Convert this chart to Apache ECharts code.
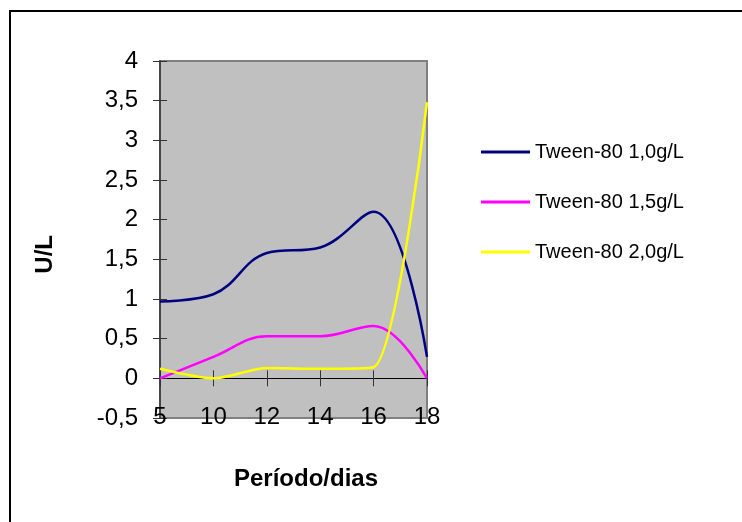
<!DOCTYPE html>
<html>
<head>
<meta charset="utf-8">
<script src="https://cdn.jsdelivr.net/npm/echarts@6/dist/echarts.min.js"></script>
<style>html,body{margin:0;padding:0;background:#fff;}#c{width:742px;height:522px;}</style>
</head>
<body>
<div id="c"></div>
<script>
const categories = ['5', '10', '12', '14', '16', '18'];
const seriesNames = ['Tween-80 1,0g/L', 'Tween-80 1,5g/L', 'Tween-80 2,0g/L'];
const tween10 = [0.97, 1.06, 1.58, 1.65, 2.10, 0.27];
const tween15 = [0.0, 0.27, 0.53, 0.53, 0.66, 0.0];
const tween20 = [0.12, 0.0, 0.13, 0.12, 0.14, 3.48];
const yTicks = { min: -0.5, max: 4, interval: 0.5 };

const colors = ['#000080', '#FF00FF', '#FFFF00'];
const smoothness = [0.4, 0.4, 0.25];
const font = 'Liberation Sans, Arial, sans-serif';
const chart = echarts.init(document.getElementById('c'), null, { renderer: 'canvas' });

function fmt(v) { return String(v).replace('.', ','); }

const valuesList = [tween10, tween15, tween20];
const legendCenters = [151, 201, 251];

chart.setOption({
  animation: false,
  backgroundColor: '#fff',
  graphic: [
    { type: 'rect', shape: { x: 10, y: 11, width: 800, height: 600 }, style: { fill: 'none', stroke: '#000', lineWidth: 2 }, z: -10 },
    { type: 'text', left: 33, top: 235, rotation: Math.PI / 2, style: { text: 'U/L', font: 'bold 24px ' + font, fill: '#000' } },
    { type: 'text', x: 306, y: 479, style: { text: 'Período/dias', font: 'bold 24px ' + font, fill: '#000', align: 'center', verticalAlign: 'middle' } }
  ],
  grid: { left: 160, right: 315, top: 61, bottom: 104, show: true, backgroundColor: '#C0C0C0', borderColor: '#808080', borderWidth: 2 },
  legend: seriesNames.map((n, i) => ({
    data: [{ name: n, icon: 'rect', itemStyle: { color: colors[i] } }],
    left: 481, top: legendCenters[i] - 9, padding: 0, itemWidth: 49, itemHeight: 3,
    textStyle: { fontFamily: font, fontSize: 20, color: '#000', padding: [0, 0, 0, 0] }
  })),
  xAxis: [
    { type: 'category', data: categories, boundaryGap: false, position: 'bottom',
      axisLine: { show: false, onZero: false }, axisTick: { show: false }, splitLine: { show: false },
      axisLabel: { fontFamily: font, fontSize: 24, color: '#000', margin: -1, verticalAlign: 'middle', interval: 0 } },
    { type: 'category', data: categories, boundaryGap: false, position: 'bottom',
      axisLine: { show: true, onZero: true, onZeroAxisIndex: 0, lineStyle: { color: '#000', width: 1 } },
      axisTick: { show: true, inside: false, length: 8, interval: 0, lineStyle: { color: '#333' } },
      axisLabel: { show: false }, splitLine: { show: false } },
    { type: 'category', data: categories, boundaryGap: false, position: 'bottom',
      axisLine: { show: false, onZero: true, onZeroAxisIndex: 0 },
      axisTick: { show: true, inside: true, length: 8, interval: 0, lineStyle: { color: '#333' } },
      axisLabel: { show: false }, splitLine: { show: false } }
  ],
  yAxis: [
    { type: 'value', min: yTicks.min, max: yTicks.max, interval: yTicks.interval,
      axisLine: { show: true, onZero: false, lineStyle: { color: '#333', width: 1.5 } },
      axisTick: { show: true, length: 7, lineStyle: { color: '#333' } },
      splitLine: { show: false },
      axisLabel: { fontFamily: font, fontSize: 24, color: '#000', margin: 22, formatter: fmt } },
    { type: 'value', min: yTicks.min, max: yTicks.max, interval: yTicks.interval, position: 'left',
      axisLine: { show: false, onZero: false }, axisTick: { show: true, inside: true, length: 7, lineStyle: { color: '#333' } },
      splitLine: { show: false }, axisLabel: { show: false } }
  ],
  series: seriesNames.map((n, i) => ({
    name: n, type: 'line', data: valuesList[i], smooth: smoothness[i], symbol: 'none',
    xAxisIndex: 0, yAxisIndex: 0,
    lineStyle: { color: colors[i], width: 2.5 }, itemStyle: { color: colors[i] }, z: 3
  }))
});
</script>
</body>
</html>
